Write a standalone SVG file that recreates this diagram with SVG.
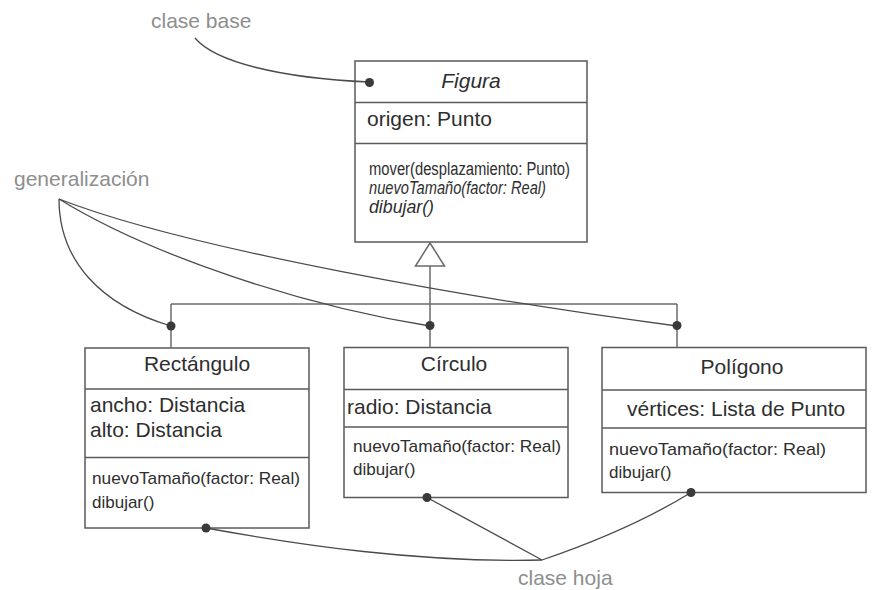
<svg xmlns="http://www.w3.org/2000/svg" width="872" height="590" viewBox="0 0 872 590">
  <style>
    .box { fill: #ffffff; stroke: #5a5a5a; stroke-width: 1.5; }
    .sep { stroke: #5a5a5a; stroke-width: 1.5; }
    .t { font-family: "Liberation Sans", Arial, sans-serif; fill: #2e2e2e; }
    .name { font-size: 21px; text-anchor: middle; }
    .attr { font-size: 21px; }
    .op { font-size: 17px; }
    .opn { font-size: 18px; }
    .it { font-style: italic; }
    .note { font-family: "Liberation Sans", Arial, sans-serif; font-size: 21px; fill: #8e8e8e; }
    .gen { fill: none; stroke: #6a6a6a; stroke-width: 1.5; }
    .ann { fill: none; stroke: #4a4a4a; stroke-width: 1.3; }
    .dot { fill: #3a3a3a; }
  </style>

  <rect x="0" y="0" width="872" height="590" fill="#ffffff"/>

  <!-- Abstract base class -->
  <g id="figura">
    <rect class="box" x="355" y="61" width="232" height="181"/>
    <line class="sep" x1="355" y1="102.5" x2="587" y2="102.5"/>
    <line class="sep" x1="355" y1="143.5" x2="587" y2="143.5"/>
    <text class="t name it" x="471" y="88" font-size="20">Figura</text>
    <text class="t attr" x="367" y="126">origen: Punto</text>
    <text class="t opn" x="369" y="175" textLength="201" lengthAdjust="spacingAndGlyphs">mover(desplazamiento: Punto)</text>
    <text class="t opn it" x="369" y="194" textLength="177" lengthAdjust="spacingAndGlyphs">nuevoTamaño(factor: Real)</text>
    <text class="t opn it" x="369" y="213" textLength="65" lengthAdjust="spacingAndGlyphs">dibujar()</text>
  </g>

  <!-- Leaf classes -->
  <g id="rectangulo">
    <rect class="box" x="85" y="348" width="224" height="180"/>
    <line class="sep" x1="85" y1="389" x2="309" y2="389"/>
    <line class="sep" x1="85" y1="457.5" x2="309" y2="457.5"/>
    <text class="t name" x="197" y="371">Rectángulo</text>
    <text class="t attr" x="90" y="412">ancho: Distancia</text>
    <text class="t attr" x="90" y="437">alto: Distancia</text>
    <text class="t op" x="92" y="484" textLength="208" lengthAdjust="spacingAndGlyphs">nuevoTamaño(factor: Real)</text>
    <text class="t op" x="92" y="508">dibujar()</text>
  </g>

  <g id="circulo">
    <rect class="box" x="344" y="347.5" width="224" height="150"/>
    <line class="sep" x1="344" y1="389.5" x2="568" y2="389.5"/>
    <line class="sep" x1="344" y1="427" x2="568" y2="427"/>
    <text class="t name" x="454" y="371">Círculo</text>
    <text class="t attr" x="347" y="414">radio: Distancia</text>
    <text class="t op" x="353" y="452" textLength="208" lengthAdjust="spacingAndGlyphs">nuevoTamaño(factor: Real)</text>
    <text class="t op" x="353" y="475">dibujar()</text>
  </g>

  <g id="poligono">
    <rect class="box" x="602" y="347.5" width="264" height="145"/>
    <line class="sep" x1="602" y1="390" x2="866" y2="390"/>
    <line class="sep" x1="602" y1="428" x2="866" y2="428"/>
    <text class="t name" x="742" y="374">Polígono</text>
    <text class="t attr" x="627" y="416">vértices: Lista de Punto</text>
    <text class="t op" x="609" y="455" textLength="217" lengthAdjust="spacingAndGlyphs">nuevoTamaño(factor: Real)</text>
    <text class="t op" x="609" y="478">dibujar()</text>
  </g>

  <!-- Generalization tree -->
  <g id="connectors">
    <polygon class="gen" points="430,243 415.5,266 444.5,266" fill="#ffffff"/>
    <line class="gen" x1="430" y1="266" x2="430" y2="347.5"/>
    <line class="gen" x1="171" y1="304" x2="677" y2="304"/>
    <line class="gen" x1="171" y1="304" x2="171" y2="348"/>
    <line class="gen" x1="677" y1="304" x2="677" y2="347.5"/>
  </g>

  <!-- Annotations -->
  <g id="notes">
    <text class="note" x="151" y="27.5">clase base</text>
    <path class="ann" d="M195,38 C215,62 280,78 369,82"/>
    <circle class="dot" cx="369.5" cy="82.5" r="4.5"/>

    <text class="note" x="14" y="186">generalización</text>
    <path class="ann" d="M59,199 C59,260 100,305 171,326"/>
    <path class="ann" d="M59,199 C150,255 300,305 430,326"/>
    <path class="ann" d="M59,199 C190,250 480,300 677,326"/>
    <circle class="dot" cx="171" cy="326" r="4.5"/>
    <circle class="dot" cx="430" cy="325.5" r="4.5"/>
    <circle class="dot" cx="677" cy="325.5" r="4.5"/>

    <text class="note" x="518" y="585">clase hoja</text>
    <path class="ann" d="M206,528 C300,545 420,563 542,560"/>
    <path class="ann" d="M427,497.5 L542,560"/>
    <path class="ann" d="M542,560 Q630,530 691,492.5"/>
    <circle class="dot" cx="206" cy="528" r="4.5"/>
    <circle class="dot" cx="427" cy="497.5" r="4.5"/>
    <circle class="dot" cx="691" cy="492.5" r="4.5"/>
  </g>
</svg>
